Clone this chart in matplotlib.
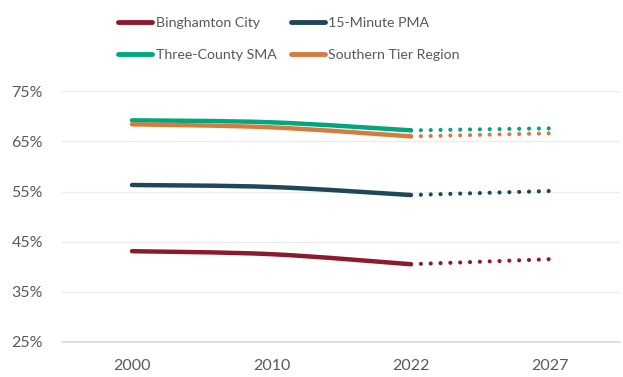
import numpy as np
import matplotlib.pyplot as plt
from matplotlib.path import Path
from matplotlib.patches import PathPatch
from matplotlib.lines import Line2D

years = ['2000', '2010', '2022', '2027']
series = ['Binghamton City', '15-Minute PMA', 'Three-County SMA', 'Southern Tier Region']
binghamton = [43.1, 42.5, 40.5, 41.5]
pma = [56.3, 55.9, 54.3, 55.1]
sma = [69.2, 68.8, 67.2, 67.6]
southern_tier = [68.4, 67.8, 66.0, 66.6]
colors = ['#8C1A2E', '#1E4757', '#00A67E', '#D67B3F']

plt.rcParams['font.family'] = ['Lato', 'DejaVu Sans']
txt = '#595959'

fig = plt.figure(figsize=(6.23, 3.77), dpi=100)
ax = fig.add_axes([0.1, 0.093, 0.895, 0.665])


def smooth_path(xs, ys):
    # catmull-rom style bezier through the actual points (excel "smoothed line")
    xs = np.asarray(xs, float)
    ys = np.asarray(ys, float)
    n = len(xs)
    verts = [(xs[0], ys[0])]
    codes = [Path.MOVETO]
    for i in range(n - 1):
        i0 = max(i - 1, 0)
        i3 = min(i + 2, n - 1)
        c1 = (xs[i] + (xs[i + 1] - xs[i0]) / 6, ys[i] + (ys[i + 1] - ys[i0]) / 6)
        c2 = (xs[i + 1] - (xs[i3] - xs[i]) / 6, ys[i + 1] - (ys[i3] - ys[i]) / 6)
        verts += [c1, c2, (xs[i + 1], ys[i + 1])]
        codes += [Path.CURVE4] * 3
    return Path(verts, codes)


x = np.arange(len(years))
for vals, c in zip([binghamton, pma, sma, southern_tier], colors):
    p = smooth_path(x[:3], vals[:3])
    ax.add_patch(PathPatch(p, facecolor='none', edgecolor=c, lw=3.2,
                           capstyle='round', zorder=3))
    ax.plot(x[2:], vals[2:], color=c, lw=3.0, linestyle=(2.3, (0.01, 2.35)),
            dash_capstyle='round', zorder=3)

ax.set_xlim(-0.5, 3.5)
ax.set_ylim(25, 75)
ax.set_yticks(np.arange(25, 76, 10))
ax.set_yticklabels([f'{v}%' for v in range(25, 76, 10)])
ax.set_xticks(x)
ax.set_xticklabels(years)
ax.grid(axis='y', color='#ececec', lw=1)
ax.set_axisbelow(True)
for s in ['top', 'right', 'left']:
    ax.spines[s].set_visible(False)
ax.spines['bottom'].set_color('#d9d9d9')
ax.spines['bottom'].set_linewidth(1.2)
ax.tick_params(length=0, colors=txt, labelsize=11.5)
ax.tick_params(axis='x', pad=12)
ax.tick_params(axis='y', pad=14)

# legend fills column-wise, so reorder to read row by row
order = [0, 2, 1, 3]
handles = [Line2D([], [], color=colors[i], lw=3.5, solid_capstyle='round') for i in order]
fig.legend(handles, [series[i] for i in order], loc='upper left',
           bbox_to_anchor=(0.178, 0.975), ncol=2, borderpad=0,
           frameon=False, fontsize=10.2, labelcolor=txt, handlelength=2.4,
           handletextpad=0.25, columnspacing=1.0, labelspacing=1.45)

fig.savefig('out.png', dpi=100)
